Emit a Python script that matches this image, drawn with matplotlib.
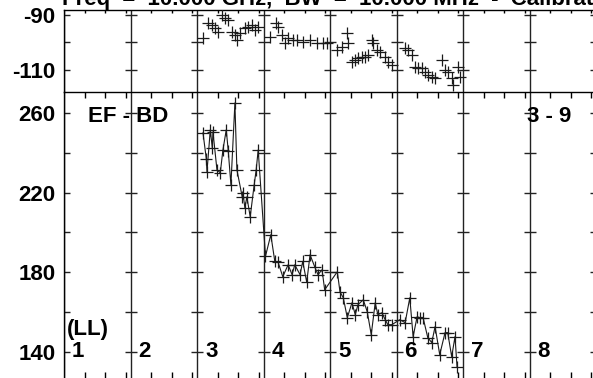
import matplotlib
matplotlib.use('Agg')
import matplotlib.pyplot as plt
import numpy as np

plt.rcParams['font.family'] = ['Liberation Sans', 'DejaVu Sans']
plt.rcParams['font.weight'] = 'bold'

# top panel: crosses only
top_x = [3.09, 3.17, 3.23, 3.27, 3.32, 3.38, 3.42, 3.47, 3.53, 3.57, 3.60, 3.65,
         3.72, 3.77, 3.83, 3.87, 3.92, 4.10, 4.19, 4.22, 4.28, 4.32, 4.37, 4.44,
         4.50, 4.59, 4.70, 4.80, 4.89, 4.95, 5.11, 5.18, 5.26, 5.27, 5.33, 5.38,
         5.42, 5.48, 5.53, 5.57, 5.63, 5.65, 5.71, 5.75, 5.83, 5.87, 5.93, 6.13,
         6.17, 6.23, 6.28, 6.32, 6.38, 6.43, 6.47, 6.53, 6.58, 6.68, 6.73, 6.77,
         6.83, 6.85, 6.92, 6.95]
top_y = [-98.4, -92.9, -93.6, -94.7, -96.2, -90.0, -91.1, -91.8, -96.2, -97.3, -99.1, -96.5,
         -94.7, -94.4, -93.6, -95.5, -94.4, -98.0, -92.9, -94.4, -97.3, -100.2, -98.4, -99.1,
         -99.1, -99.8, -99.1, -100.2, -100.2, -100.2, -102.7, -101.6, -96.5, -100.2, -107.1, -106.4,
         -105.6, -105.3, -105.3, -104.5, -99.1, -100.2, -102.7, -103.5, -105.3, -107.1, -108.2, -102.0,
         -102.7, -104.5, -108.9, -109.3, -109.3, -110.7, -111.8, -112.5, -112.9, -106.4, -110.0, -110.7,
         -112.9, -115.5, -108.9, -112.5]

# bottom panel: crosses joined by a line
bot_x = [3.09, 3.14, 3.15, 3.20, 3.23, 3.24, 3.30, 3.35, 3.39, 3.44, 3.47, 3.51,
         3.57, 3.60, 3.68, 3.69, 3.72, 3.75, 3.80, 3.86, 3.89, 3.92,
         4.03, 4.11, 4.17, 4.22, 4.29, 4.37, 4.43, 4.47, 4.55, 4.59, 4.65, 4.70,
         4.77, 4.82, 4.88, 4.92, 5.11, 5.15, 5.20, 5.26, 5.33, 5.38, 5.42, 5.50,
         5.56, 5.62, 5.68, 5.72, 5.78, 5.83, 5.87, 5.93, 6.05, 6.13, 6.20, 6.25,
         6.31, 6.35, 6.40, 6.47, 6.53, 6.58, 6.65, 6.73, 6.77, 6.83, 6.88, 6.91]
bot_y = [250.0, 236.9, 230.4, 251.5, 242.4, 250.5, 231.4, 229.9, 241.4, 251.5, 240.9, 223.9,
         265.0, 231.4, 217.8, 219.8, 212.3, 217.8, 207.8, 223.9, 231.4, 241.4,
         188.0, 198.8, 185.4, 184.9, 177.7, 183.7, 178.7, 183.7, 178.7, 185.4, 174.9, 188.7,
         182.7, 178.7, 181.2, 171.1, 180.2, 170.1, 167.1, 157.1, 164.6, 158.6, 163.6, 166.1,
         160.1, 148.6, 164.6, 158.6, 159.6, 156.1, 153.6, 153.6, 156.1, 154.6, 167.1, 147.6,
         157.6, 157.1, 157.1, 147.1, 144.6, 152.6, 138.5, 149.6, 149.6, 137.5, 147.6, 132.5]

ll_lines = [1, 2, 3, 4, 5, 6, 7, 8, 9]
ll_labels = ['1', '2', '3', '4', '5', '6', '7', '8']
top_yticks = [-90, -110]
bot_yticks = [140, 180, 220, 260]

title = 'Freq  =  10.000 GHz,  BW  =  10.000 MHz  -  Calibrated'

W, H = 593, 378
FS = 16
fig = plt.figure(figsize=(W / 100, H / 100), dpi=100)
left = 64 / W
width = 532 / W
ax1 = fig.add_axes([left, 1 - 92 / H, width, 82 / H])
ax2 = fig.add_axes([left, 0, width, 1 - 92 / H])

minor = [k + f for k in range(1, 9) for f in (0.31, 0.62, 0.925)]

for ax, ylim, yt, allt in [(ax1, (-118, -88.2), top_yticks, [-90, -100, -110]),
                           (ax2, (126.8, 270.5), bot_yticks, list(range(140, 261, 20)))]:
    ax.set_xlim(1, 9)
    ax.set_ylim(*ylim)
    for s in ['right', 'bottom']:
        ax.spines[s].set_visible(False)
    ax.spines['left'].set_linewidth(1.0)
    ax.spines['top'].set_linewidth(1.0)
    ax.set_yticks(yt)
    ax.set_yticklabels([str(v) for v in yt], fontsize=FS, fontweight='bold')
    ax.tick_params(axis='y', length=0, pad=6)
    ax.set_xticks([])
    for x in ll_lines:
        ax.axvline(x, color='#222222', lw=1.0, zorder=1)
        ax.plot([x] * len(allt), allt, ls='none', marker='_', ms=9, mew=1.0,
                color='#222222', zorder=1)
    # inward minor ticks along the top edge
    tl = (ylim[1] - ylim[0]) * (3 / 82 if ax is ax1 else 6 / 286)
    ax.vlines(minor, ylim[1] - tl, ylim[1], color='black', lw=1.0)
    if ax is ax2:
        ax.vlines(minor, ylim[0], ylim[0] + tl, color='black', lw=1.0)

ax1.plot(top_x, top_y, ls='none', marker='+', ms=8.5, mew=0.9, color='#1a1a1a', zorder=3)
ax2.plot(bot_x, bot_y, color='#1a1a1a', lw=0.8, marker='+', ms=8.5, mew=0.9, zorder=3)

ax2.text(1.36, 258, 'EF - BD', fontsize=FS, fontweight='bold', va='center', ha='left')
ax2.text(7.96, 258, '3 - 9', fontsize=FS, fontweight='bold', va='center', ha='left')
ax2.text(1.04, 151, '(LL)', fontsize=FS, fontweight='bold', va='center', ha='left')
for k, lab in enumerate(ll_labels):
    ax2.text(k + 1.12, 140, lab, fontsize=FS, fontweight='bold', va='center', ha='left')

fig.text(62 / W, 1 - 5 / H, title, fontsize=FS, fontweight='bold', va='baseline', ha='left')

fig.savefig('out.png', dpi=100)
